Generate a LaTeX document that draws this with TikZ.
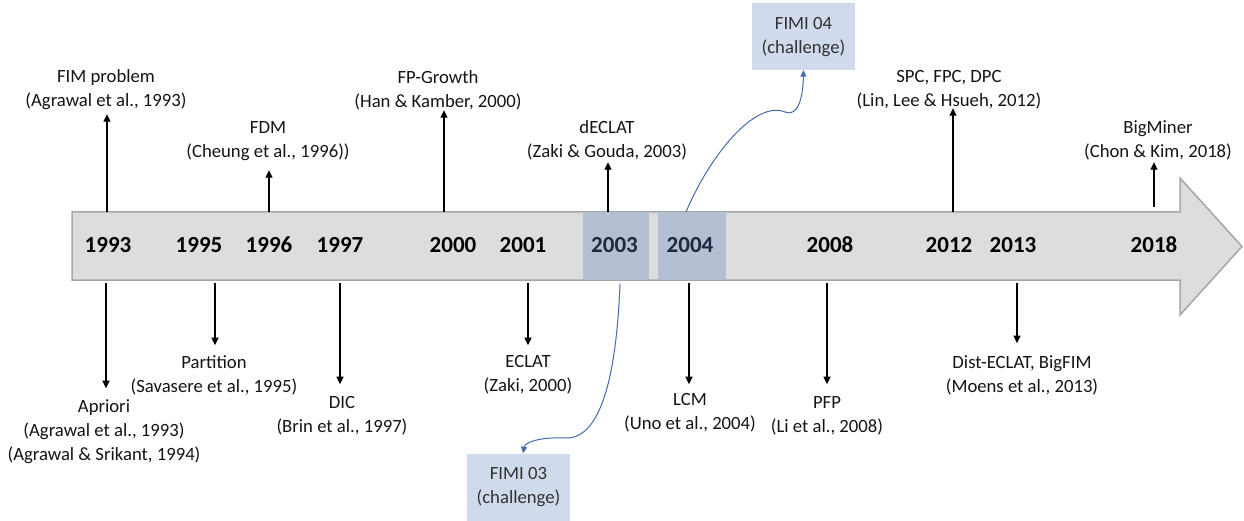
\documentclass[tikz,border=0pt]{standalone}
\usepackage{fontspec}
\setmainfont{Carlito}
\usetikzlibrary{arrows.meta}
\definecolor{bodyfill}{RGB}{221,221,221}
\definecolor{bodyline}{RGB}{166,166,166}
\definecolor{hlfill}{RGB}{181,191,211}
\definecolor{hltext}{RGB}{30,40,62}
\definecolor{fimifill}{RGB}{207,219,236}
\definecolor{fimitext}{RGB}{50,50,50}
\definecolor{curveblue}{RGB}{68,106,176}
\begin{document}
\begin{tikzpicture}[x=1pt,y=-1pt,
  lbl/.style={font=\fontsize{18.7}{24}\selectfont, align=center, inner sep=0pt, text=black!92},
  uplbl/.style={lbl, anchor=south},
  dnlbl/.style={lbl, anchor=north},
  yr/.style={font=\fontsize{23}{28}\selectfont\bfseries, anchor=base, inner sep=0pt},
  hl/.style={fill=hlfill, draw=none, minimum height=68pt, inner sep=0pt},
  arr/.style={line width=1.1pt, -{Triangle[width=7pt,length=7.5pt]}},
  fimi/.style={fill=fimifill, minimum width=103pt, minimum height=67pt, inner sep=0pt,
    font=\fontsize{18.7}{24}\selectfont, align=center, text=fimitext},
  bendarr/.style={curveblue, line width=1pt, -{Triangle[width=6pt,length=6.5pt]}}
]
\useasboundingbox (0,0) rectangle (1244,521);

% timeline body
\draw[fill=bodyfill, draw=bodyline, line width=1.5pt, line join=miter]
  (72,212) -- (1180,212) -- (1180,178) -- (1242,246.5) -- (1180,315) -- (1180,280) -- (72,280) -- cycle;

% highlighted years
\node[hl, minimum width=66pt] (h2003) at (616,246) {};
\node[hl, minimum width=68pt] (h2004) at (692,246) {};

% years
\node[yr] (y1993) at (108,253) {1993};
\node[yr] (y1995) at (199,253) {1995};
\node[yr] (y1996) at (269,253) {1996};
\node[yr] (y1997) at (340,253) {1997};
\node[yr] (y2000) at (453,253) {2000};
\node[yr] (y2001) at (523,253) {2001};
\node[yr, text=hltext] (y2003) at (614.5,253) {2003};
\node[yr, text=hltext] (y2004) at (690,253) {2004};
\node[yr] (y2008) at (830,253) {2008};
\node[yr] (y2012) at (949,253) {2012};
\node[yr] (y2013) at (1013,253) {2013};
\node[yr] (y2018) at (1154,253) {2018};

% upper labels
\node[uplbl] (fim) at (106,114.2) {\strut FIM problem\\\strut (Agrawal et al., 1993)};
\node[uplbl] (fdm) at (268,165.2) {\strut FDM\\\strut (Cheung et al., 1996))};
\node[uplbl] (fpg) at (438,115.2) {\strut FP-Growth\\\strut (Han \& Kamber, 2000)};
\node[uplbl] (declat) at (607,165.2) {\strut dECLAT\\\strut (Zaki \& Gouda, 2003)};
\node[uplbl] (spc) at (949,114.2) {\strut SPC, FPC, DPC\\\strut (Lin, Lee \& Hsueh, 2012)};
\node[uplbl] (bigminer) at (1158,165.2) {\strut BigMiner\\\strut (Chon \& Kim, 2018)};

% lower labels
\node[dnlbl] (apriori) at (104,395.2) {\strut Apriori\\\strut (Agrawal et al., 1993)\\\strut (Agrawal \& Srikant, 1994)};
\node[dnlbl] (partition) at (214,351.2) {\strut Partition\\\strut (Savasere et al., 1995)};
\node[dnlbl] (dic) at (342,391.2) {\strut DIC\\\strut (Brin et al., 1997)};
\node[dnlbl] (eclat) at (528,350.2) {\strut ECLAT\\\strut (Zaki, 2000)};
\node[dnlbl] (lcm) at (690,388.2) {\strut LCM\\\strut (Uno et al., 2004)};
\node[dnlbl] (pfp) at (827,391.2) {\strut PFP\\\strut (Li et al., 2008)};
\node[dnlbl] (dist) at (1022,351.2) {\strut Dist-ECLAT, BigFIM\\\strut (Moens et al., 2013)};

% FIMI boxes
\node[fimi] (fimi04) at (803.5,36.5) {\strut FIMI 04\\\strut (challenge)};
\node[fimi] (fimi03) at (518.5,487) {\strut FIMI 03\\\strut (challenge)};

% arrow start points on the timeline
\coordinate (s1993u) at (107,212);
\coordinate (s1996u) at (269,212);
\coordinate (s2000u) at (444,212);
\coordinate (s2003u) at (608,212);
\coordinate (s2012u) at (953,212);
\coordinate (s2018u) at (1154,207);
\coordinate (s1993d) at (106,283);
\coordinate (s1995d) at (215,283);
\coordinate (s1997d) at (340,283);
\coordinate (s2001d) at (528,283);
\coordinate (s2004d) at (689,283);
\coordinate (s2008d) at (827,283);
\coordinate (s2013d) at (1017,283);

% upward connectors
\draw[arr] (s1993u) -- (s1993u |- fim.south);
\draw[arr, shorten >=5pt] (s1996u) -- (s1996u |- fdm.south);
\draw[arr, shorten >=-5pt] (s2000u) -- (s2000u |- fpg.south);
\draw[arr, shorten >=-3pt] (s2003u) -- (s2003u |- declat.south);
\draw[arr, shorten >=-6pt] (s2012u) -- (s2012u |- spc.south);
\draw[arr, shorten >=-3pt] (s2018u) -- (s2018u |- bigminer.south);

% downward connectors
\draw[arr, shorten >=7pt] (s1993d) -- (s1993d |- apriori.north);
\draw[arr, shorten >=6pt] (s1995d) -- (s1995d |- partition.north);
\draw[arr, shorten >=7pt] (s1997d) -- (s1997d |- dic.north);
\draw[arr, shorten >=5pt] (s2001d) -- (s2001d |- eclat.north);
\draw[arr, shorten >=4pt] (s2004d) -- (s2004d |- lcm.north);
\draw[arr, shorten >=7pt] (s2008d) -- (s2008d |- pfp.north);
\draw[arr, shorten >=8pt] (s2013d) -- (s2013d |- dist.north);

% FIMI curves
\coordinate (c04s) at (686,212);
\coordinate (c03s) at (620,284);
\draw[bendarr] (c04s) .. controls (710,155) and (755,100) .. (785,112)
  .. controls (797,117) and (803,100) .. (fimi04.south);
\draw[bendarr] (c03s) .. controls (617,360) and (605,440) .. (565,438)
  .. controls (540,437) and (525,442) .. ([xshift=4.5pt]fimi03.north);
\end{tikzpicture}
\end{document}
